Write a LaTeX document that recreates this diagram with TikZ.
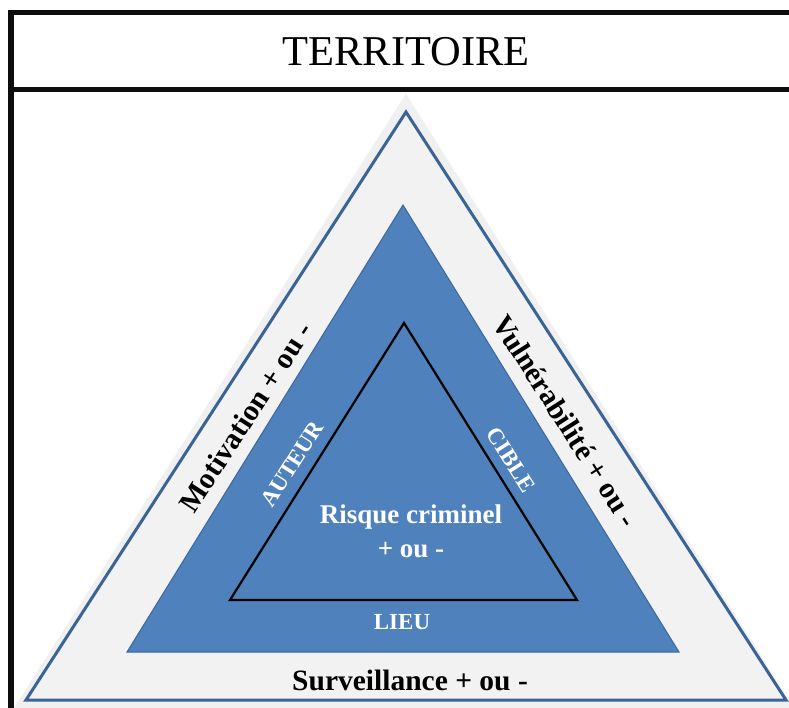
\documentclass[tikz,border=0pt]{standalone}
\usepackage{fontspec}
\setmainfont{Liberation Serif}
\definecolor{greyfill}{HTML}{F2F2F2}
\definecolor{halo}{HTML}{F0F0F0}
\definecolor{blueline}{HTML}{3B6496}
\definecolor{bluefill}{HTML}{4F81BD}
\definecolor{blueedge}{HTML}{3A679E}
\tikzset{
  frameline/.style={line width=5.5pt, draw=black!95},
  biglabel/.style={font=\fontsize{29.5}{33}\selectfont\bfseries, text=black, inner sep=0pt},
  whitelabel/.style={font=\fontsize{23}{27}\selectfont\bfseries, text=white, inner sep=0pt},
  centerlabel/.style={font=\fontsize{27}{31}\selectfont\bfseries, text=white, inner sep=0pt},
}
\begin{document}
\begin{tikzpicture}[x=1pt,y=-1pt]
\useasboundingbox (0,0) rectangle (789,708);
\fill[white] (0,0) rectangle (789,708);
% halo
\fill[halo] (406,94) -- (14,708) -- (789,708) -- (789,700) -- cycle;
% outer triangle
\coordinate (oA) at (406,112);
\coordinate (oB) at (26,700);
\coordinate (oC) at (786,700);
\filldraw[fill=greyfill, draw=blueline, line width=3pt, line join=miter] (oA) -- (oB) -- (oC) -- cycle;
% middle triangle
\coordinate (mA) at (403,205);
\coordinate (mB) at (127,652);
\coordinate (mC) at (679,652);
\filldraw[fill=bluefill, draw=blueedge, line width=1pt] (mA) -- (mB) -- (mC) -- cycle;
% inner triangle
\coordinate (iA) at (404,323);
\coordinate (iB) at (230,600);
\coordinate (iC) at (577,600);
\draw[black, line width=2.2pt, line join=miter] (iA) -- (iB) -- (iC) -- cycle;
% frame
\draw[frameline] (8,12.5) -- (789,12.5);
\draw[frameline] (11,10) -- (11,708);
\draw[frameline] (11,89.5) -- (789,89.5);
\node[inner sep=0pt, font=\fontsize{42.5}{48}\selectfont, anchor=base] (title) at (406,66) {TERRITOIRE};
% labels
\node[biglabel, rotate=57] (motiv) at (246,417) {Motivation + ou -};
\node[biglabel, rotate=-57.5] (vuln) at (566,421) {Vulnérabilité + ou -};
\node[biglabel, anchor=base] (surv) at (410,690) {Surveillance + ou -};
\node[whitelabel, rotate=57.5] (auteur) at (292,464) {AUTEUR};
\node[whitelabel, rotate=-57.5] (cible) at (511,460) {CIBLE};
\node[whitelabel, anchor=base] (lieu) at (402,629) {LIEU};
\node[centerlabel, anchor=base] (risque) at (411,523) {Risque criminel};
\node[centerlabel, anchor=base] (pm) at (411,557) {+ ou -};
\end{tikzpicture}
\end{document}
